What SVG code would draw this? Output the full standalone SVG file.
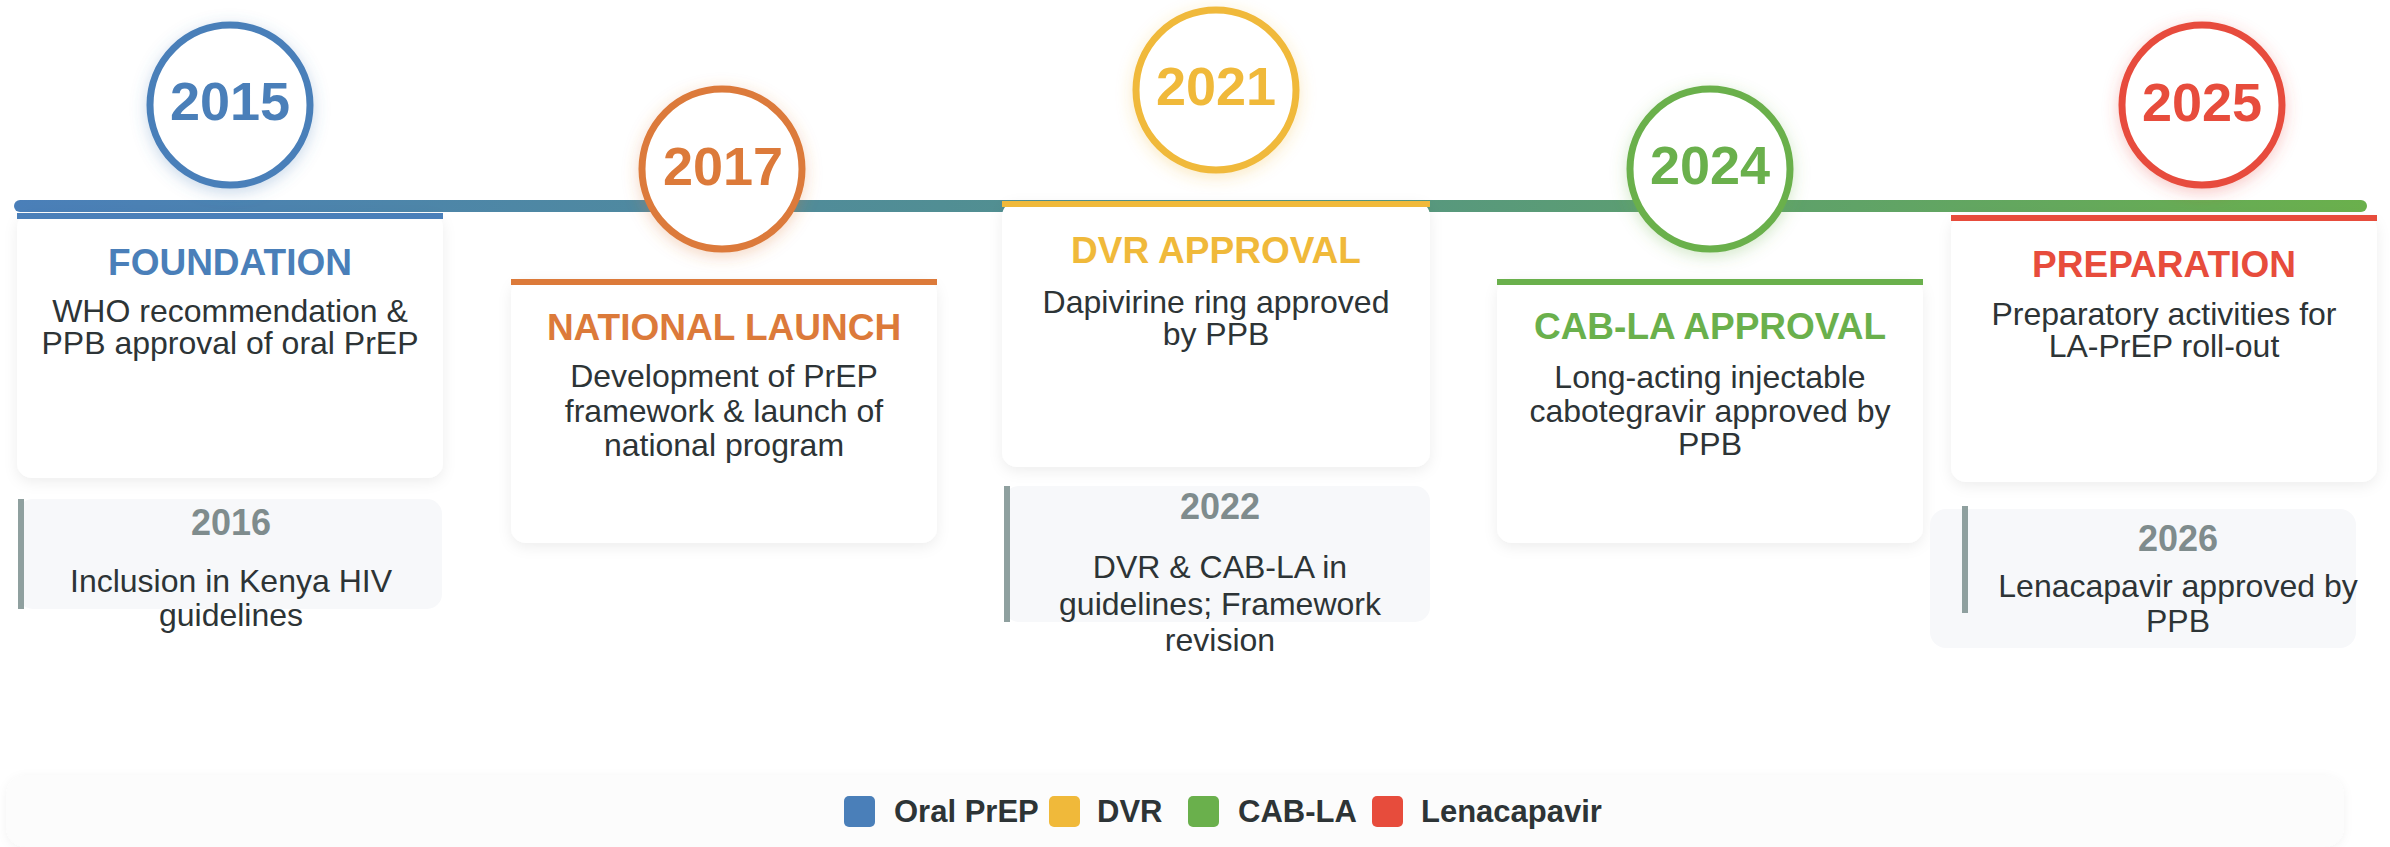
<svg xmlns="http://www.w3.org/2000/svg" width="2390" height="847" viewBox="0 0 2390 847">
<style>
text{font-family:"Liberation Sans",Arial,Helvetica,sans-serif;text-anchor:middle}
.yr{font-size:54px;font-weight:bold}
.ttl{font-size:37px;font-weight:bold}
.desc{font-size:32px;fill:#2d3436}
.sub{font-size:36px;font-weight:bold;fill:#7f8c8d}
.card{fill:#ffffff;filter:url(#cs)}
.subbg{fill:#f7f8fa}
.subbar{fill:#8fa09f}
.circ{fill:#ffffff;stroke-width:7}
.leg{font-size:31px;font-weight:bold;fill:#2d3436;text-anchor:start}
</style>
<defs>
<linearGradient id="tl" x1="0" y1="0" x2="1" y2="0">
<stop offset="0" stop-color="#4a7fb9"/>
<stop offset="0.5" stop-color="#53928a"/>
<stop offset="1" stop-color="#6ab04c"/>
</linearGradient>
<filter id="cs" x="-10%" y="-10%" width="120%" height="130%"><feDropShadow dx="0" dy="4" stdDeviation="7" flood-color="#000" flood-opacity="0.07"/></filter>
<filter id="gb" x="-30%" y="-30%" width="160%" height="160%"><feDropShadow dx="0" dy="4" stdDeviation="8" flood-color="#4a7fb9" flood-opacity="0.3"/></filter>
<filter id="go" x="-30%" y="-30%" width="160%" height="160%"><feDropShadow dx="0" dy="4" stdDeviation="8" flood-color="#dc7a3a" flood-opacity="0.3"/></filter>
<filter id="gy" x="-30%" y="-30%" width="160%" height="160%"><feDropShadow dx="0" dy="4" stdDeviation="8" flood-color="#f0b93a" flood-opacity="0.3"/></filter>
<filter id="gg" x="-30%" y="-30%" width="160%" height="160%"><feDropShadow dx="0" dy="4" stdDeviation="8" flood-color="#6ab04c" flood-opacity="0.3"/></filter>
<filter id="gr" x="-30%" y="-30%" width="160%" height="160%"><feDropShadow dx="0" dy="4" stdDeviation="8" flood-color="#e74c3c" flood-opacity="0.3"/></filter>
<filter id="ls" x="-5%" y="-30%" width="110%" height="160%"><feDropShadow dx="0" dy="2" stdDeviation="5" flood-color="#000" flood-opacity="0.05"/></filter>
</defs>

<g id="connectors">
<rect x="14" y="200" width="2353" height="12" rx="6" fill="url(#tl)"/>
</g>

<g id="node-2015">
<circle class="circ" cx="230" cy="105" r="80" stroke="#4a7fb9" filter="url(#gb)"/>
<text class="yr" x="230" y="120" fill="#4a7fb9">2015</text>
<rect class="card" x="17" y="213" width="426" height="265" rx="15"/>
<rect x="17" y="213" width="426" height="6" fill="#4a7fb9"/>
<text class="ttl" x="230" y="275" fill="#4a7fb9">FOUNDATION</text>
<text class="desc" x="230" y="322">WHO recommendation &amp;</text>
<text class="desc" x="230" y="354">PPB approval of oral PrEP</text>
</g>

<g id="node-2016">
<rect class="subbg" x="18" y="499" width="424" height="110" rx="15"/>
<rect class="subbar" x="18" y="499" width="6" height="110"/>
<text class="sub" x="231" y="535">2016</text>
<text class="desc" x="231" y="592">Inclusion in Kenya HIV</text>
<text class="desc" x="231" y="626">guidelines</text>
</g>

<g id="node-2017">
<rect class="card" x="511" y="279" width="426" height="264" rx="15"/>
<rect x="511" y="279" width="426" height="6" fill="#dc7a3a"/>
<text class="ttl" x="724" y="340" fill="#dc7a3a">NATIONAL LAUNCH</text>
<text class="desc" x="724" y="387">Development of PrEP</text>
<text class="desc" x="724" y="422">framework &amp; launch of</text>
<text class="desc" x="724" y="456">national program</text>
<circle class="circ" cx="722" cy="169" r="80" stroke="#dc7a3a" filter="url(#go)"/>
<text class="yr" x="723" y="185" fill="#dc7a3a">2017</text>
</g>

<g id="node-2021">
<circle class="circ" cx="1216" cy="90" r="80" stroke="#f0b93a" filter="url(#gy)"/>
<text class="yr" x="1216" y="105" fill="#f0b93a">2021</text>
<rect class="card" x="1002" y="201" width="428" height="266" rx="15"/>
<rect x="1002" y="201" width="428" height="6" fill="#f0b93a"/>
<text class="ttl" x="1216" y="263" fill="#f0b93a">DVR APPROVAL</text>
<text class="desc" x="1216" y="313">Dapivirine ring approved</text>
<text class="desc" x="1216" y="345">by PPB</text>
</g>

<g id="node-2022">
<rect class="subbg" x="1004" y="486" width="426" height="136" rx="15"/>
<rect class="subbar" x="1004" y="486" width="6" height="136"/>
<text class="sub" x="1220" y="519">2022</text>
<text class="desc" x="1220" y="578">DVR &amp; CAB-LA in</text>
<text class="desc" x="1220" y="615">guidelines; Framework</text>
<text class="desc" x="1220" y="651">revision</text>
</g>

<g id="node-2024">
<rect class="card" x="1497" y="279" width="426" height="264" rx="15"/>
<rect x="1497" y="279" width="426" height="6" fill="#6ab04c"/>
<text class="ttl" x="1710" y="339" fill="#6ab04c">CAB-LA APPROVAL</text>
<text class="desc" x="1710" y="388">Long-acting injectable</text>
<text class="desc" x="1710" y="422">cabotegravir approved by</text>
<text class="desc" x="1710" y="455">PPB</text>
<circle class="circ" cx="1710" cy="169" r="80" stroke="#6ab04c" filter="url(#gg)"/>
<text class="yr" x="1710" y="184" fill="#6ab04c">2024</text>
</g>

<g id="node-2025">
<circle class="circ" cx="2202" cy="105" r="80" stroke="#e74c3c" filter="url(#gr)"/>
<text class="yr" x="2202" y="121" fill="#e74c3c">2025</text>
<rect class="card" x="1951" y="215" width="426" height="267" rx="15"/>
<rect x="1951" y="215" width="426" height="6" fill="#e74c3c"/>
<text class="ttl" x="2164" y="277" fill="#e74c3c">PREPARATION</text>
<text class="desc" x="2164" y="325">Preparatory activities for</text>
<text class="desc" x="2164" y="357">LA-PrEP roll-out</text>
</g>

<g id="node-2026">
<rect class="subbg" x="1930" y="509" width="426" height="139" rx="16"/>
<rect class="subbar" x="1962" y="506" width="6" height="107"/>
<text class="sub" x="2178" y="551">2026</text>
<text class="desc" x="2178" y="597">Lenacapavir approved by</text>
<text class="desc" x="2178" y="632">PPB</text>
</g>

<g id="legend">
<rect x="6" y="775" width="2338" height="72" rx="20" fill="#fcfcfc" filter="url(#ls)"/>
<rect x="844" y="796" width="31" height="31" rx="5" fill="#4a7fb9"/>
<text class="leg" x="894" y="822">Oral PrEP</text>
<rect x="1049" y="796" width="31" height="31" rx="5" fill="#f0b93a"/>
<text class="leg" x="1097" y="822">DVR</text>
<rect x="1188" y="796" width="31" height="31" rx="5" fill="#6ab04c"/>
<text class="leg" x="1238" y="822">CAB-LA</text>
<rect x="1372" y="796" width="31" height="31" rx="5" fill="#e74c3c"/>
<text class="leg" x="1421" y="822">Lenacapavir</text>
</g>
</svg>
